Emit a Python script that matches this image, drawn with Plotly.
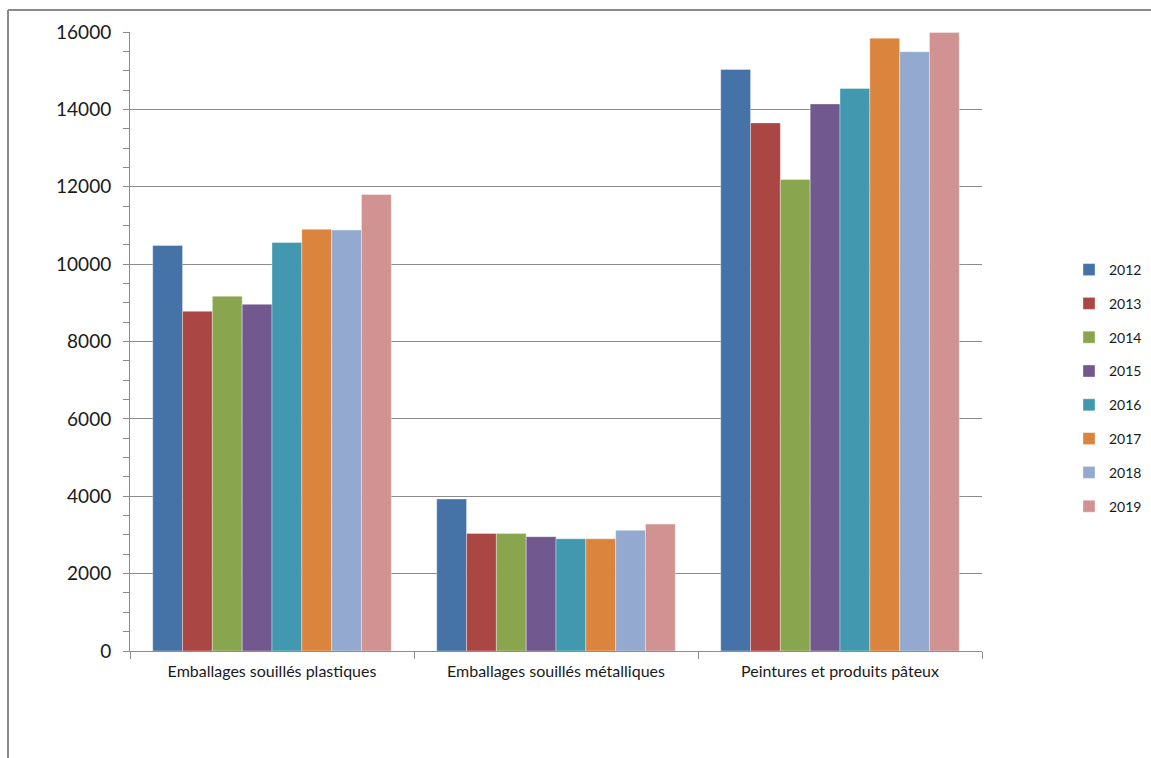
import plotly.graph_objects as go

categories = ["Emballages souillés plastiques", "Emballages souillés métalliques", "Peintures et produits pâteux"]
years = ["2012", "2013", "2014", "2015", "2016", "2017", "2018", "2019"]
v2012 = [10480, 3930, 15030]
v2013 = [8780, 3040, 13650]
v2014 = [9170, 3040, 12190]
v2015 = [8960, 2955, 14140]
v2016 = [10560, 2900, 14540]
v2017 = [10900, 2900, 15840]
v2018 = [10880, 3120, 15490]
v2019 = [11800, 3280, 15990]
series = [v2012, v2013, v2014, v2015, v2016, v2017, v2018, v2019]
colors = ["#4572A7", "#AA4643", "#89A54E", "#71588F", "#4198AF", "#DB843D", "#93A9CF", "#D19392"]

fig = go.Figure()
for y, vals, c in zip(years, series, colors):
    fig.add_trace(go.Bar(
        x=categories, y=vals, name=y, legendgroup=y,
        marker=dict(color=c, line=dict(color="rgba(255,255,255,0.45)", width=0.8)),
    ))

W, H = 1151, 758
L, R, T, B = 130, 982, 32, 651
pw, ph = R - L, B - T

def px(x):
    return (x - L) / pw

def py(y):
    return (B - y) / ph

font = "Lato, 'Open Sans', sans-serif"
fig.update_layout(
    width=W, height=H,
    margin=dict(l=L, r=W - R, t=T, b=H - B, autoexpand=False),
    paper_bgcolor="white", plot_bgcolor="white",
    barmode="group", bargap=0.16, bargroupgap=0,
    font=dict(family=font, color="#1a1a1a"),
    showlegend=True,
    legend=dict(
        x=px(1069), y=py(254), xanchor="left", yanchor="top",
        traceorder="grouped", tracegroupgap=12.6,
        font=dict(size=14, family=font, color="#1a1a1a"),
        itemwidth=30,
    ),
    xaxis=dict(
        type="category", showline=True, linecolor="#8c8c8c", linewidth=1,
        ticks="outside", tickson="boundaries", ticklen=7, tickcolor="#8c8c8c",
        tickfont=dict(size=16, family=font), ticklabelstandoff=6,
        showgrid=False, fixedrange=True,
    ),
    yaxis=dict(
        range=[0, 16000], dtick=2000, tickformat="d", showline=True, linecolor="#8c8c8c", linewidth=1,
        ticks="outside", ticklen=6, tickcolor="#8c8c8c",
        tickfont=dict(size=19, family=font), ticklabelstandoff=8,
        showgrid=True, gridcolor="#8c8c8c", gridwidth=1, zeroline=False,
        minor=dict(dtick=500, ticks="outside", ticklen=6, tickcolor="#8c8c8c", showgrid=False),
    ),
    shapes=[
        dict(type="line", xref="paper", yref="paper", x0=px(8), x1=px(8), y0=py(10), y1=py(H + 5),
             line=dict(color="#8a8a8a", width=2)),
        dict(type="line", xref="paper", yref="paper", x0=px(8), x1=px(W + 5), y0=py(10), y1=py(10),
             line=dict(color="#8a8a8a", width=2)),
    ],
)

fig.write_html("out.html", config={"displayModeBar": False},
               post_script="document.body.style.margin='0';document.body.style.overflow='hidden';")
